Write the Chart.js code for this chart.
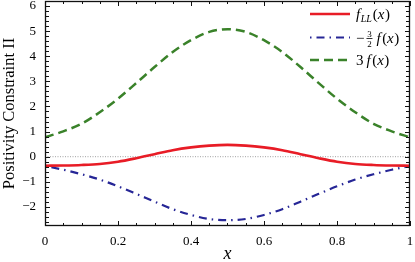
<!DOCTYPE html>
<html>
<head>
<meta charset="utf-8">
<script src="https://cdn.jsdelivr.net/npm/chart.js@4.4.1/dist/chart.umd.min.js"></script>
<style>
  html, body { margin: 0; padding: 0; background: #fff; }
  #wrap { width: 415px; height: 262px; }
</style>
</head>
<body>
<div id="wrap"><canvas id="myChart" width="415" height="262"></canvas></div>
<script>
// values, x from 0 to 1 in steps of 0.05
const xs = [0, 0.05, 0.1, 0.15, 0.2, 0.25, 0.3, 0.35, 0.4, 0.45, 0.5,
            0.55, 0.6, 0.65, 0.7, 0.75, 0.8, 0.85, 0.9, 0.95, 1];
const fLL = [-0.36, -0.35, -0.33, -0.29, -0.20, -0.06, 0.10, 0.26, 0.37, 0.44, 0.47,
             0.44, 0.37, 0.26, 0.10, -0.06, -0.20, -0.29, -0.33, -0.35, -0.36];
const minusHalf3f = [-0.37, -0.52, -0.70, -0.91, -1.18, -1.48, -1.79, -2.09, -2.32, -2.48, -2.53,
                     -2.48, -2.32, -2.09, -1.79, -1.48, -1.18, -0.91, -0.70, -0.52, -0.37];
const three_f = [0.77, 1.01, 1.31, 1.77, 2.31, 2.93, 3.57, 4.17, 4.64, 4.97, 5.08,
                 4.97, 4.64, 4.17, 3.57, 2.93, 2.31, 1.77, 1.31, 1.01, 0.77];
const xTicks = [0, 0.2, 0.4, 0.6, 0.8, 1];
const yTicks = [-2, -1, 0, 1, 2, 3, 4, 5, 6];
const Y_MIN = -2.76, Y_MAX = 6.2;

const SERIF = '"Liberation Serif", "DejaVu Serif", serif';
const RED = 'rgb(232, 28, 38)';
const BLUE = 'rgb(38, 38, 150)';
const GREEN = 'rgb(58, 130, 42)';

function pts(arr) {
    return xs.map((x, i) => ({ x: x, y: arr[i] }));
}

// frame, inward tick marks on all four sides, x title
const frameTicks = {
    id: 'frameTicks',
    afterDraw(chart) {
        const { ctx, chartArea: a, scales: { x, y } } = chart;
        const L = a.left, R = a.right, T = a.top, B = a.bottom;
        ctx.save();
        ctx.strokeStyle = '#111';
        ctx.lineWidth = 1.3;
        ctx.setLineDash([]);
        ctx.strokeRect(L + 0.5, T + 0.5, R - L - 1, B - T - 1);
        ctx.lineWidth = 1;
        ctx.beginPath();
        for (let v = 0; v <= 1.0001; v += 0.05) {
            const px = Math.round(x.getPixelForValue(v)) + 0.5;
            const major = Math.abs(v * 5 - Math.round(v * 5)) < 1e-6;
            const len = major ? 5 : 3;
            ctx.moveTo(px, B); ctx.lineTo(px, B - len);
            ctx.moveTo(px, T); ctx.lineTo(px, T + len);
        }
        for (let v = -2.6; v <= Y_MAX; v += 0.2) {
            const py = Math.round(y.getPixelForValue(v)) + 0.5;
            const major = Math.abs(v - Math.round(v)) < 1e-6;
            const len = major ? 5 : 4;
            ctx.moveTo(L, py); ctx.lineTo(L + len, py);
            ctx.moveTo(R, py); ctx.lineTo(R - len, py);
        }
        ctx.stroke();
        ctx.fillStyle = '#000';
        ctx.font = 'italic 18px ' + SERIF;
        ctx.textAlign = 'center';
        ctx.textBaseline = 'alphabetic';
        ctx.fillText('x', (L + R) / 2, 259);
        ctx.restore();
    }
};

// legend drawn inside the top right corner
const mathLegend = {
    id: 'mathLegend',
    afterDraw(chart) {
        const ctx = chart.ctx;
        const x0 = 310, x1 = 350, tx = 356;
        const rows = [14, 37.5, 60];
        const ds = chart.data.datasets;
        ctx.save();
        rows.forEach((ry, i) => {
            ctx.strokeStyle = ds[i].borderColor;
            ctx.lineWidth = ds[i].borderWidth;
            ctx.setLineDash(ds[i].borderDash || []);
            ctx.beginPath();
            ctx.moveTo(x0, ry); ctx.lineTo(x1, ry);
            ctx.stroke();
        });
        ctx.setLineDash([]);
        ctx.fillStyle = '#000';
        ctx.textBaseline = 'alphabetic';
        ctx.textAlign = 'left';
        const it = s => 'italic ' + s + 'px ' + SERIF;
        const up = s => s + 'px ' + SERIF;
        function put(text, font, x, y) {
            ctx.font = font;
            ctx.fillText(text, x, y);
            return x + ctx.measureText(text).width;
        }
        function fx(x, y) {
            x = put('f', it(15), x, y) + 1.5;
            x = put('(', up(15), x, y);
            x = put('x', it(15), x, y) + 0.5;
            return put(')', up(15), x, y);
        }
        // row 1: f_LL(x)
        let y = rows[0] + 5, x = tx;
        x = put('f', it(15), x, y) + 0.5;
        x = put('LL', it(10), x, y + 3) + 1;
        x = put('(', up(15), x, y);
        x = put('x', it(15), x, y) + 0.5;
        put(')', up(15), x, y);
        // row 2: -3/2 f(x)
        y = rows[1] + 5; x = tx;
        x = put('\u2212', up(15), x, y) + 2;
        ctx.font = up(9);
        ctx.textAlign = 'center';
        ctx.fillText('3', x + 3, y - 6);
        ctx.fillText('2', x + 3, y + 4);
        ctx.textAlign = 'left';
        ctx.fillRect(x, y - 4.5, 6, 0.8);
        fx(x + 10, y);
        // row 3: 3 f(x)
        y = rows[2] + 5; x = tx;
        x = put('3', up(15), x, y) + 3;
        fx(x, y);
        ctx.restore();
    }
};

new Chart(document.getElementById('myChart'), {
    type: 'line',
    data: {
        datasets: [{
            label: 'f_LL(x)',
            data: pts(fLL),
            borderColor: RED,
            borderWidth: 2.6
        }, {
            label: '-3/2 f(x)',
            data: pts(minusHalf3f),
            borderColor: BLUE,
            borderWidth: 2.2,
            borderDash: [1.5, 5, 8, 5]
        }, {
            label: '3 f(x)',
            data: pts(three_f),
            borderColor: GREEN,
            borderWidth: 2.5,
            borderDash: [9, 5]
        }, {
            label: 'zero',
            data: [{ x: 0, y: 0 }, { x: 1, y: 0 }],
            borderColor: '#888',
            borderWidth: 0.8,
            borderDash: [1, 1.5]
        }]
    },
    options: {
        responsive: false,
        animation: false,
        events: [],
        layout: { padding: { top: 1, right: 5, left: 0, bottom: 0 } },
        elements: {
            point: { radius: 0 },
            line: { cubicInterpolationMode: 'monotone', fill: false }
        },
        plugins: {
            legend: { display: false },
            tooltip: { enabled: false }
        },
        scales: {
            x: {
                type: 'linear',
                min: 0,
                max: 1,
                afterBuildTicks: s => { s.ticks = xTicks.map(v => ({ value: v })); },
                afterFit: s => { s.height = 36; s.paddingLeft = 0; s.paddingRight = 0; },
                grid: { display: false, drawTicks: false },
                border: { display: false },
                ticks: {
                    padding: 8,
                    color: '#000',
                    maxRotation: 0,
                    font: { family: SERIF, size: 13 },
                    callback: v => String(v)
                }
            },
            y: {
                min: Y_MIN,
                max: Y_MAX,
                afterBuildTicks: s => { s.ticks = yTicks.map(v => ({ value: v })); },
                afterFit: s => { s.width = 45; s.paddingTop = 0; s.paddingBottom = 0; },
                grid: { display: false, drawTicks: false },
                border: { display: false },
                ticks: {
                    padding: 9,
                    color: '#000',
                    font: { family: SERIF, size: 13 },
                    callback: v => (v < 0 ? '\u2212' + Math.abs(v) : String(v))
                },
                title: {
                    display: true,
                    text: 'Positivity Constraint II',
                    color: '#000',
                    padding: { top: 0, bottom: 0 },
                    font: { family: SERIF, size: 16.5 }
                }
            }
        }
    },
    plugins: [frameTicks, mathLegend]
});
</script>
</body>
</html>
